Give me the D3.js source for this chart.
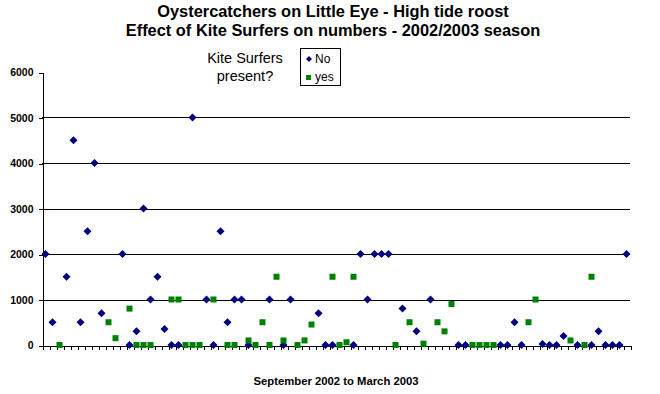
<!DOCTYPE html>
<html>
<head>
<meta charset="utf-8">
<script src="https://cdn.jsdelivr.net/npm/d3@7"></script>
<style>
  body { margin: 0; background: #fff; }
  text { font-family: "Liberation Sans", Arial, sans-serif; }
</style>
</head>
<body>
<svg></svg>
<script>
// counts per high tide visit, index = visit number (null = no mark in that series)
var noKite = [2000, 500, null, 1500, 4500, 500, 2500, 4000, 700, null,
  null, 2000, 0, 300, 3000, 1000, 1500, 350, 0, 0,
  null, 5000, null, 1000, 0, 2500, 500, 1000, 1000, 0,
  null, null, 1000, null, 0, 1000, null, null, null, 700,
  0, 0, null, null, 0, 2000, 1000, 2000, 2000, 2000,
  null, 800, null, 300, null, 1000, null, null, null, 0,
  0, null, null, null, null, 0, 0, 500, 0, null,
  null, 20, 0, 0, 200, null, 0, null, 0, 300,
  0, 0, 0, 2000];
var yesKite = [null, null, 0, null, null, null, null, null, null, 500,
  150, null, 800, 0, 0, 0, null, null, 1000, 1000,
  0, 0, 0, null, 1000, null, 0, 0, null, 100,
  0, 500, 0, 1500, 100, null, 0, 100, 450, null,
  null, 1500, 0, 60, 1500, null, null, null, null, null,
  0, null, 500, null, 30, null, 500, 300, 900, null,
  null, 0, 0, 0, 0, null, null, null, null, 500,
  1000, null, null, null, null, 100, null, 0, 1500, null,
  null, null, null, null];
var yTicks = [0, 1000, 2000, 3000, 4000, 5000, 6000];
var gridTicks = [1000, 2000, 3000, 4000, 5000];

var svgWidth = 660, svgHeight = 394;

var svg = d3.select("svg")
    .attr("width", svgWidth)
    .attr("height", svgHeight);

var nCat = noKite.length;
var xScale = d3.scaleLinear()
    .domain([0, nCat])
    .range([42, 630]);
var yScale = d3.scaleLinear()
    .domain([0, 6000])
    .range([345, 72]);

// gridlines
svg.append("g")
    .selectAll("line")
    .data(gridTicks)
    .enter().append("line")
    .attr("x1", xScale(0))
    .attr("x2", xScale(nCat))
    .attr("y1", function(d) { return Math.round(yScale(d)) + 0.5; })
    .attr("y2", function(d) { return Math.round(yScale(d)) + 0.5; })
    .attr("stroke", "#000")
    .attr("stroke-width", 1);

var y_axis = d3.axisLeft(yScale)
    .tickValues(yTicks)
    .tickFormat(d3.format("d"))
    .tickSize(4)
    .tickSizeOuter(0)
    .tickPadding(5);
var gy = svg.append("g")
    .attr("transform", "translate(42.5,0.5)")
    .call(y_axis);
gy.selectAll("text")
    .attr("font-size", "10.5px")
    .attr("font-weight", "bold")
    .attr("font-family", "Liberation Sans, Arial, sans-serif")
    .attr("fill", "#000");
gy.select(".domain").attr("shape-rendering", "crispEdges");
gy.selectAll(".tick line").attr("shape-rendering", "crispEdges");

var x_axis = d3.axisBottom(xScale)
    .tickValues(d3.range(0, nCat + 1))
    .tickSize(4)
    .tickSizeOuter(0)
    .tickFormat("");
var gx = svg.append("g")
    .attr("transform", "translate(0.5,345.5)")
    .call(x_axis);
gx.selectAll("path, line").attr("shape-rendering", "crispEdges");

function cx(i) { return xScale(i + 0.5); }

// series "No" - navy diamonds
svg.append("g")
    .selectAll("path")
    .data(noKite.map(function(v, i) { return {i: i, v: v}; }).filter(function(d) { return d.v !== null; }))
    .enter().append("path")
    .attr("d", "M0,-4L4,0L0,4L-4,0Z")
    .attr("transform", function(d) { return "translate(" + cx(d.i) + "," + yScale(d.v) + ")"; })
    .attr("fill", "#000080");

// series "yes" - green squares
svg.append("g")
    .selectAll("rect")
    .data(yesKite.map(function(v, i) { return {i: i, v: v}; }).filter(function(d) { return d.v !== null; }))
    .enter().append("rect")
    .attr("x", function(d) { return cx(d.i) - 3; })
    .attr("y", function(d) { return yScale(d.v) - 3; })
    .attr("width", 6)
    .attr("height", 6)
    .attr("fill", "#008000");

// titles
svg.append("text")
    .attr("x", 333).attr("y", 17)
    .attr("text-anchor", "middle")
    .attr("font-size", "16.4px").attr("font-weight", "bold")
    .text("Oystercatchers on Little Eye - High tide roost");
svg.append("text")
    .attr("x", 333).attr("y", 36)
    .attr("text-anchor", "middle")
    .attr("font-size", "16.4px").attr("font-weight", "bold")
    .text("Effect of Kite Surfers on numbers - 2002/2003 season");

svg.append("text")
    .attr("x", 336).attr("y", 385)
    .attr("text-anchor", "middle")
    .attr("font-size", "11.3px").attr("font-weight", "bold")
    .text("September 2002 to March 2003");

// legend
svg.append("text")
    .attr("x", 245).attr("y", 63)
    .attr("text-anchor", "middle")
    .attr("font-size", "14.5px")
    .text("Kite Surfers");
svg.append("text")
    .attr("x", 245).attr("y", 81)
    .attr("text-anchor", "middle")
    .attr("font-size", "14.5px")
    .text("present?");

svg.append("rect")
    .attr("x", 300.5).attr("y", 48.5)
    .attr("width", 40).attr("height", 37)
    .attr("fill", "#fff")
    .attr("stroke", "#000");
svg.append("path")
    .attr("d", "M0,-3L3,0L0,3L-3,0Z")
    .attr("transform", "translate(309,59)")
    .attr("fill", "#000080");
svg.append("rect")
    .attr("x", 306).attr("y", 75)
    .attr("width", 5).attr("height", 5)
    .attr("fill", "#008000");
svg.append("text")
    .attr("x", 315).attr("y", 63)
    .attr("font-size", "12px")
    .text("No");
svg.append("text")
    .attr("x", 315).attr("y", 81)
    .attr("font-size", "12px")
    .text("yes");
</script>
</body>
</html>
